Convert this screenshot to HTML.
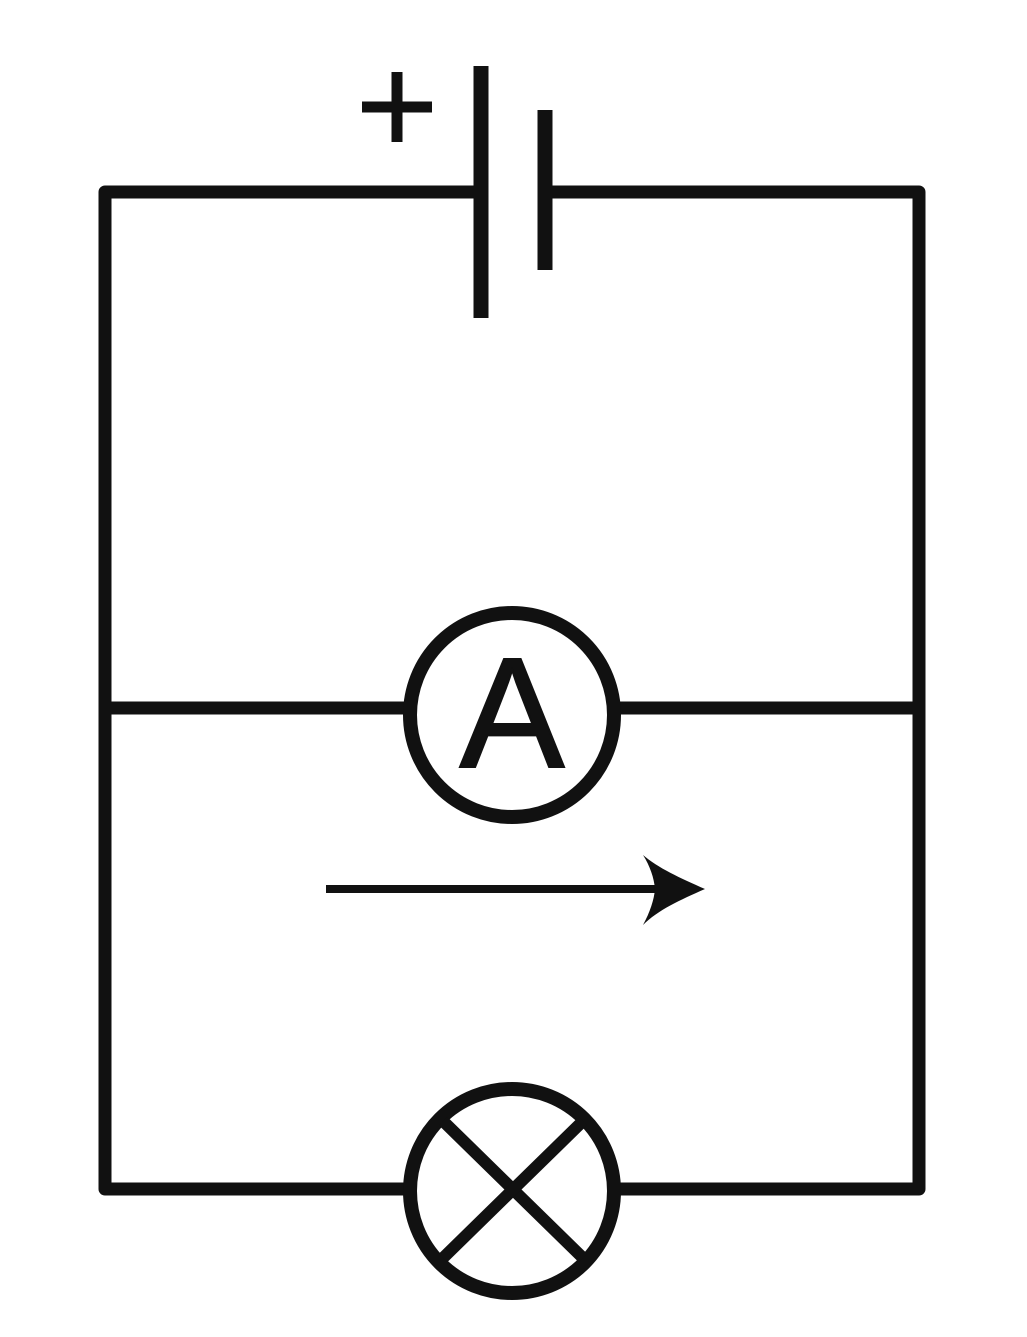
<!DOCTYPE html>
<html><head><style>html,body{margin:0;padding:0;background:#fff}</style></head>
<body>
<svg width="1027" height="1332" viewBox="0 0 1027 1332" xmlns="http://www.w3.org/2000/svg">
<g stroke="#111" stroke-width="13" fill="none" stroke-linecap="butt">
<path d="M474 192 H105 V1189 H405" stroke-linejoin="round"/>
<path d="M552 192 H919 V1189 H619" stroke-linejoin="round"/>
<line x1="105" y1="708" x2="405" y2="708"/>
<line x1="619" y1="708" x2="919" y2="708"/>
<line x1="481" y1="66" x2="481" y2="318" stroke-width="15"/>
<line x1="545" y1="110" x2="545" y2="270" stroke-width="15"/>
<line x1="362" y1="107" x2="432" y2="107" stroke-width="11"/>
<line x1="397" y1="72" x2="397" y2="142" stroke-width="11"/>
<circle cx="512" cy="715" r="102" stroke-width="14"/>
<circle cx="512" cy="1191" r="102" stroke-width="14"/>
<line x1="443" y1="1121" x2="583" y2="1258" stroke-width="12"/>
<line x1="583" y1="1121" x2="443" y2="1258" stroke-width="12"/>
<line x1="326" y1="889" x2="680" y2="889" stroke-width="8"/>
</g>
<path d="M705 889 C680 900 658 910 643 925 C650 912 654 900 655 889 C654 878 650 866 643 855 C658 868 680 878 705 889 Z" fill="#111"/>
<text x="512" y="767" text-anchor="middle" font-family="Liberation Sans, sans-serif" font-size="157" fill="#111" stroke="#111" stroke-width="2">A</text>
</svg>
</body></html>
